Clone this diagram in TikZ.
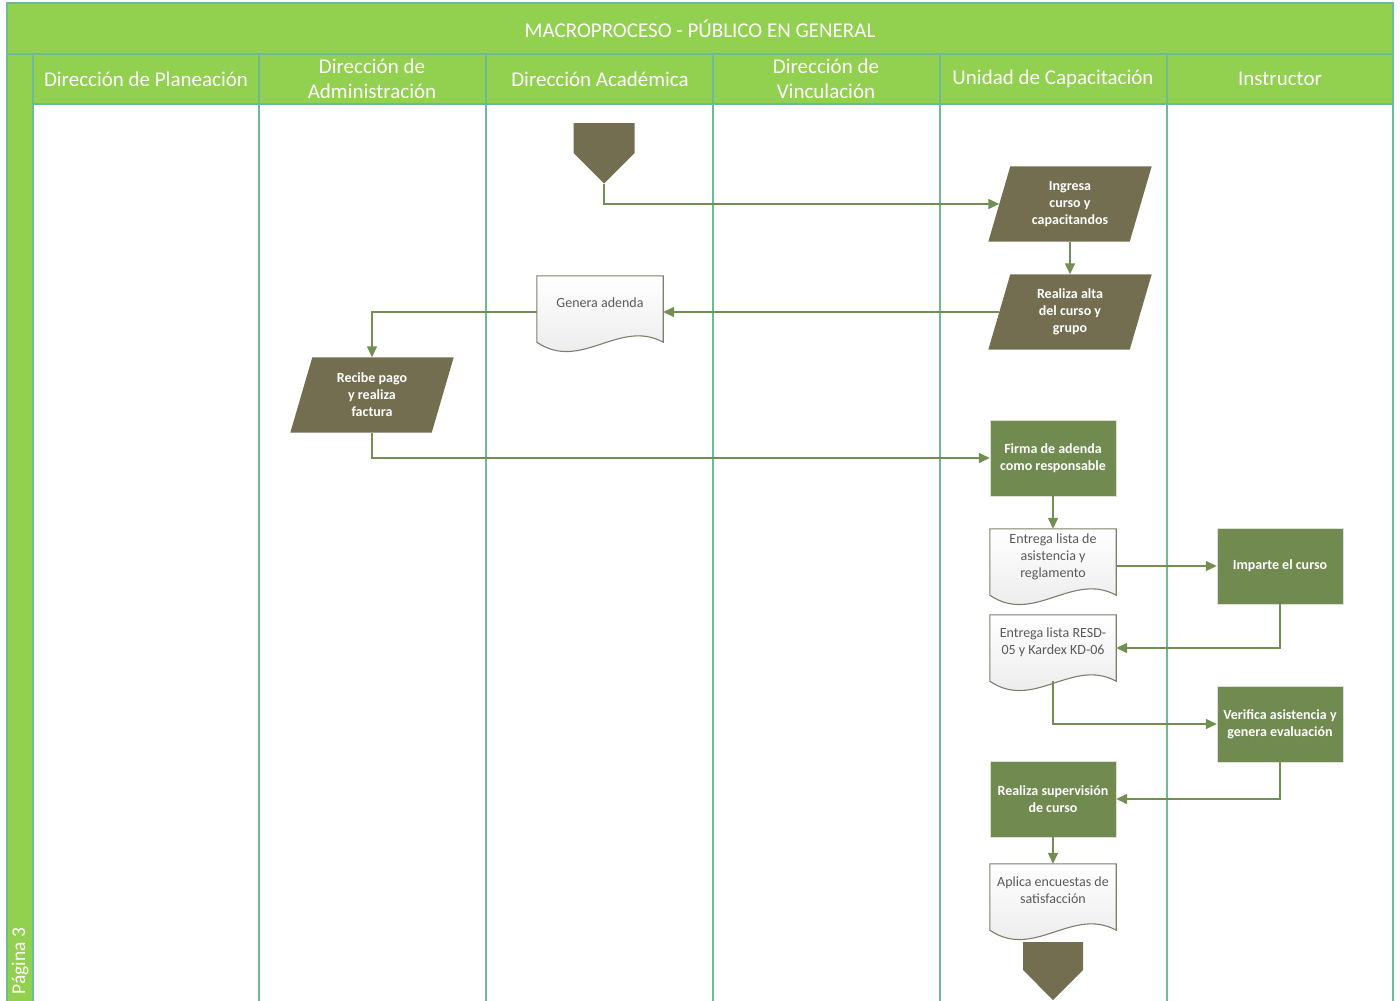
\documentclass[tikz,border=0pt]{standalone}
\usepackage{fontspec}
\setmainfont{Carlito}
\usetikzlibrary{shapes.symbols,arrows.meta,backgrounds}

\definecolor{titlegreen}{RGB}{146,208,80}
\definecolor{laneline}{RGB}{110,185,150}
\definecolor{olivebox}{RGB}{116,110,81}
\definecolor{procgreen}{RGB}{112,138,80}
\definecolor{flowline}{RGB}{114,142,82}
\definecolor{docborder}{RGB}{128,124,110}
\definecolor{doctext}{RGB}{90,90,90}

\tikzset{
    lanehead/.style={text=white, font=\fontsize{21}{25}\selectfont, align=center},
    dataio/.style={rectangle, text=white, minimum width=141pt, minimum height=75pt,
        inner sep=0pt, align=center, font=\bfseries\fontsize{14}{17}\selectfont},
    procbox/.style={rectangle, fill=procgreen, draw=white!75!procgreen, text=white,
        minimum width=126pt, minimum height=76pt, inner sep=0pt, align=center,
        font=\bfseries\fontsize{14}{17}\selectfont},
    docbox/.style={rectangle, minimum width=126pt, minimum height=66pt, inner sep=0pt,
        text depth=13pt, align=center, text=doctext, font=\fontsize{14}{17}\selectfont},
    offpage/.style={signal, signal to=south, signal pointer angle=90, fill=olivebox,
        minimum width=61pt, minimum height=30pt, inner sep=0pt},
    flow/.style={flowline, line width=1.4pt, -{Triangle[length=11pt,width=10pt]}},
    lane/.style={laneline, line width=1.2pt},
}

\newcommand{\docoutline}[1]{%
    \begin{scope}[on background layer]
    \draw[docborder, line width=1.1pt, top color=white, bottom color=black!9]
        (#1.north west) -- (#1.south west)
        .. controls ([xshift=44pt,yshift=-30pt]#1.south west)
        and ([xshift=-44pt,yshift=24pt]#1.south east) .. (#1.south east)
        -- (#1.north east) -- cycle;
    \end{scope}}

\newcommand{\dataoutline}[1]{%
    \begin{scope}[on background layer]
    \fill[olivebox] ([xshift=11pt]#1.north west) -- ([xshift=11pt]#1.north east)
        -- ([xshift=-11pt]#1.south east) -- ([xshift=-11pt]#1.south west) -- cycle;
    \end{scope}}

\begin{document}
\begin{tikzpicture}[x=1pt,y=-1pt]
\useasboundingbox (0,0) rectangle (1400,1001);

% swimlanes
\fill[titlegreen] (7,3) rectangle (1393,104);
\fill[titlegreen] (7,104) rectangle (33,1010);
\draw[lane] (7,3) rectangle (1393,1010);
\draw[lane] (7,54) -- (1393,54);
\draw[lane] (33,104) -- (1393,104);
\foreach \x in {33,259,486,713,940,1167}
    \draw[lane] (\x,54) -- (\x,1010);

\node[lanehead, font=\fontsize{21}{25}\selectfont] (title) at (700,29) {MACROPROCESO - PÚBLICO EN GENERAL};
\node[lanehead] (planeacion) at (146,79) {Dirección de Planeación};
\node[lanehead] (administracion) at (372,79) {Dirección de\\Administración};
\node[lanehead] (academica) at (600,79) {Dirección Académica};
\node[lanehead] (vinculacion) at (826,79) {Dirección de\\Vinculación};
\node[lanehead] (capacitacion) at (1053,79) {Unidad de Capacitación};
\node[lanehead] (instructor) at (1280,79) {Instructor};
\node[lanehead, font=\fontsize{19.5}{22}\selectfont, rotate=90, anchor=west] (pagina) at (20,998) {Página 3};

% shapes
\node[offpage] (start) at (604,138) {};
\node[dataio] (ingresa) at (1070,204) {Ingresa\\curso y\\capacitandos};
\dataoutline{ingresa}
\node[dataio] (alta) at (1070,312) {Realiza alta\\del curso y\\grupo};
\dataoutline{alta}
\node[docbox] (adenda) at (600,309) {Genera adenda};
\docoutline{adenda}
\node[dataio] (pago) at (372,395) {Recibe pago\\y realiza\\factura};
\dataoutline{pago}
\node[procbox] (firma) at (1053,458) {Firma de adenda\\como responsable};
\node[docbox] (asistencia) at (1053,562) {Entrega lista de\\asistencia y\\reglamento};
\docoutline{asistencia}
\node[procbox] (imparte) at (1280,566) {Imparte el curso};
\node[docbox] (kardex) at (1053,648) {Entrega lista RESD-\\05 y Kardex KD-06};
\docoutline{kardex}
\node[procbox] (verifica) at (1280,724) {Verifica asistencia y\\genera evaluación};
\node[procbox] (supervision) at (1053,799) {Realiza supervisión\\de curso};
\node[docbox] (encuestas) at (1053,897) {Aplica encuestas de\\satisfacción};
\docoutline{encuestas}
\node[offpage, minimum width=60pt, minimum height=28pt] (fin) at (1053,956) {};

% connectors
\draw[flow] (start.south) |- (ingresa.west);
\draw[flow] (ingresa.south) -- (alta.north);
\draw[flow] (alta.west) -- (alta.west -| adenda.east);
\draw[flow] (adenda.west |- alta.west) -| (pago.north);
\draw[flow] (pago.south) |- (firma.west);
\draw[flow] (firma.south) -- (asistencia.north);
\draw[flow] (asistencia.east |- imparte.west) -- (imparte.west);
\draw[flow] (imparte.south) |- (kardex.east);
\draw[flow] (kardex.south) |- (verifica.west);
\draw[flow] (verifica.south) |- (supervision.east);
\draw[flow] (supervision.south) -- (encuestas.north);
\end{tikzpicture}
\end{document}
